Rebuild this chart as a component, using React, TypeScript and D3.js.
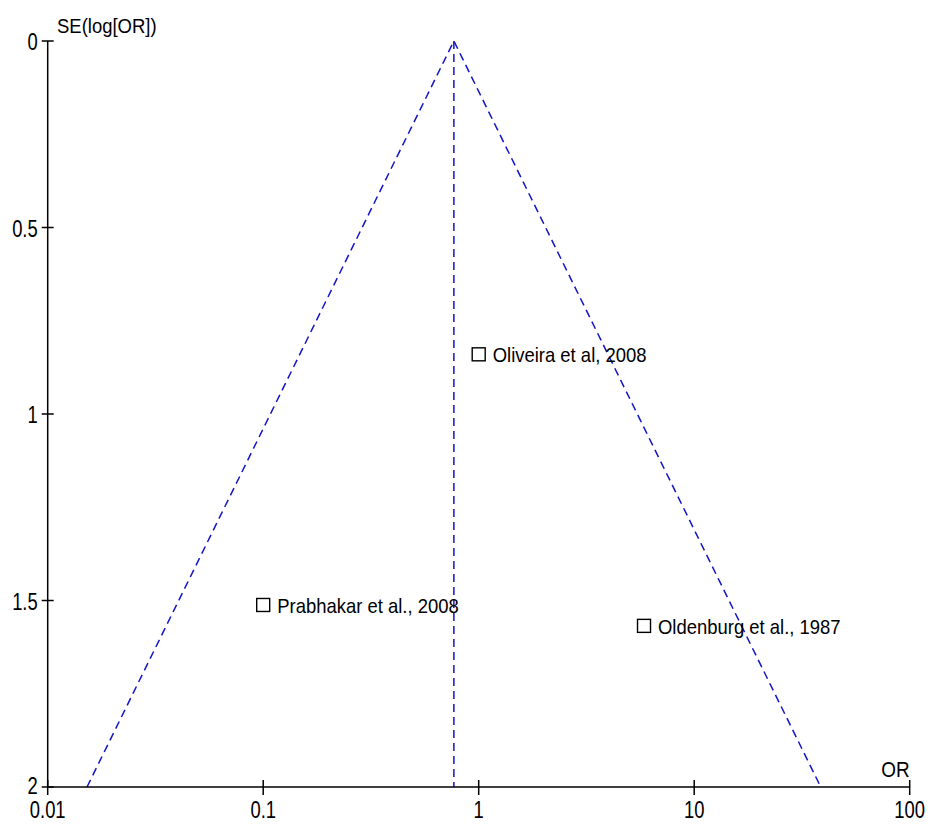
import * as d3 from 'd3';

const studies = ['Oliveira et al, 2008', 'Prabhakar et al., 2008', 'Oldenburg et al., 1987'];
const oddsRatios = [1.0, 0.1, 5.85];
const standardErrors = [0.84, 1.512, 1.568];
const pooledOR = 0.767;
const xTicks = [0.01, 0.1, 1, 10, 100];
const yTicks = [0, 0.5, 1, 1.5, 2];

// condensed text: the reference font is narrower than anything installed
function NText({ x, y, size, sx = 0.86, anchor = 'start', dy = '0', children }: any) {
    return (
        <text transform={`translate(${x},${y}) scale(${sx},1)`} dy={dy} fontSize={size} textAnchor={anchor}>
            {children}
        </text>
    );
}

export default function App() {
    const width = 928;
    const height = 824;
    const marginLeft = 47.7;
    const marginRight = 18.3;
    const marginTop = 41;
    const marginBottom = 37;

    const x = d3.scaleLog([0.01, 100], [marginLeft, width - marginRight]);
    const y = d3.scaleLinear([0, 2], [marginTop, height - marginBottom]);

    const seMax = 2;
    const logP = Math.log(pooledOR);
    const funnel = [
        [Math.exp(logP - 1.96 * seMax), seMax],
        [pooledOR, 0],
        [Math.exp(logP + 1.96 * seMax), seMax],
    ];
    const line = d3.line<number[]>().x(d => x(d[0])).y(d => y(d[1]));

    const x0 = x(0.01);
    const yBottom = y(2);

    return (
        <svg width={width} height={height} style={{ position: 'absolute', left: 0, top: 0 }}
            fontFamily='"Liberation Sans", Arial, sans-serif'>
            <rect width={width} height={height} fill="#fff" />
            {/* funnel */}
            <path d={line(funnel) ?? ''} fill="none" stroke="#1414c8" strokeWidth={1.5} strokeDasharray="8,5" />
            <line x1={x(pooledOR)} x2={x(pooledOR)} y1={y(0)} y2={y(seMax)} stroke="#1414c8" strokeWidth={1.5} strokeDasharray="8,5" />

            {/* y axis */}
            <line x1={x0} x2={x0} y1={y(0)} y2={yBottom} stroke="#000" strokeWidth={1.5} />
            {yTicks.map(t => (
                <g key={t}>
                    <line x1={x0 - 6} x2={x0 + 6} y1={y(t)} y2={y(t)} stroke="#000" strokeWidth={1.5} />
                    <NText x={x0 - 10} y={y(t)} dy={t === 2 ? '0.3em' : '0.4em'} anchor="end" size={23} sx={0.8}>{t}</NText>
                </g>
            ))}
            <NText x={57} y={33} size={21} sx={0.88}>SE(log[OR])</NText>

            {/* x axis */}
            <line x1={x0} x2={x(100)} y1={yBottom} y2={yBottom} stroke="#000" strokeWidth={1.5} />
            {xTicks.map(t => (
                <g key={t}>
                    <line x1={x(t)} x2={x(t)} y1={yBottom - 7} y2={yBottom + 8} stroke="#000" strokeWidth={1.5} />
                    <NText x={x(t)} y={yBottom + 31} anchor="middle" size={23} sx={0.8}>{t}</NText>
                </g>
            ))}
            <NText x={x(100)} y={yBottom - 10} anchor="end" size={22} sx={0.86}>OR</NText>

            {/* studies */}
            {studies.map((s, i) => (
                <g key={s}>
                    <rect x={x(oddsRatios[i]) - 6.5} y={y(standardErrors[i]) - 6.5} width={13} height={13}
                        fill="none" stroke="#000" strokeWidth={1.4} />
                    <NText x={x(oddsRatios[i]) + 14} y={y(standardErrors[i]) + 8} size={20.5} sx={0.9}>{s}</NText>
                </g>
            ))}
        </svg>
    );
}
